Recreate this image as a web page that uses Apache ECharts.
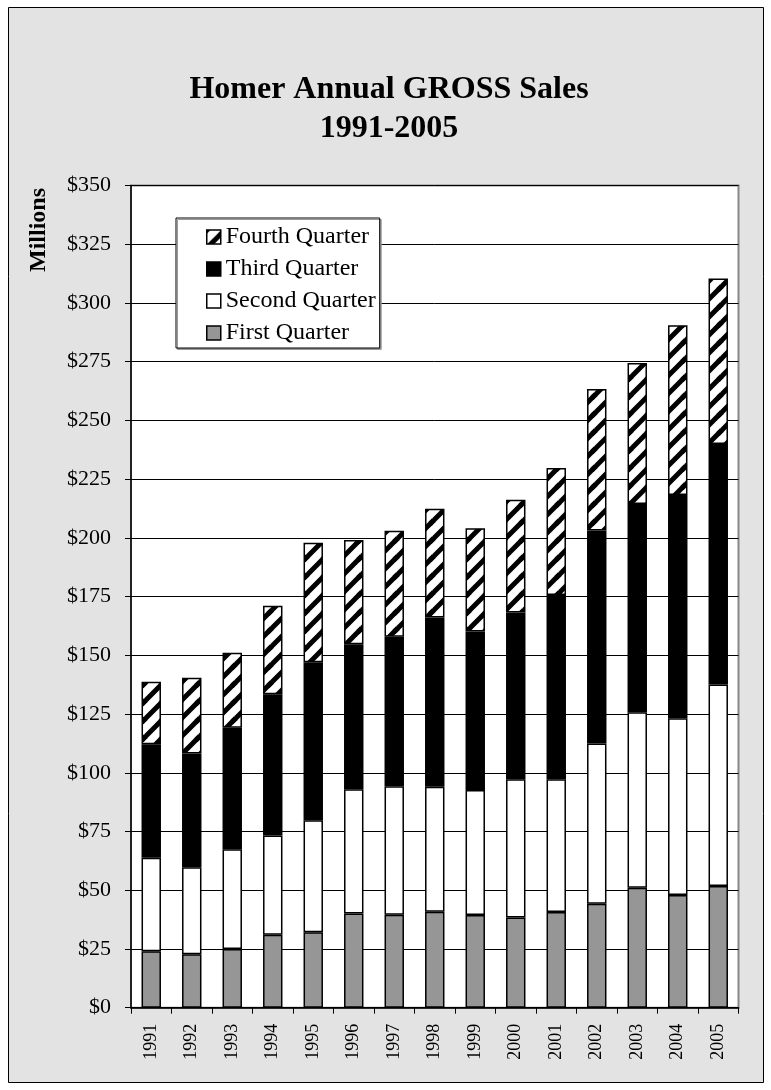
<!DOCTYPE html>
<html>
<head>
<meta charset="utf-8">
<script src="https://cdn.jsdelivr.net/npm/echarts@6/dist/echarts.min.js"></script>
<style>
html,body{margin:0;padding:0;background:#fff;}
#chart{width:771px;height:1090px;}
</style>
</head>
<body>
<div id="chart"></div>
<script>
const years = ['1991','1992','1993','1994','1995','1996','1997','1998','1999','2000','2001','2002','2003','2004','2005'];
const firstQuarter  = [24.0, 22.7, 25.0, 31.1, 32.1, 40.1, 39.6, 40.8, 39.5, 38.4, 40.7, 44.3, 51.1, 48.0, 51.8];
const secondQuarter = [39.8, 37.1, 42.5, 42.2, 47.7, 52.9, 54.7, 53.3, 53.2, 58.8, 56.5, 68.2, 74.7, 75.2, 85.8];
const thirdQuarter  = [48.4, 48.4, 51.7, 60.1, 67.3, 61.7, 63.6, 72.0, 67.4, 71.0, 78.5, 90.6, 88.6, 95.1, 102.4];
const fourthQuarter = [26.6, 32.3, 31.9, 37.7, 50.8, 44.4, 45.1, 46.3, 44.0, 48.0, 54.0, 60.3, 60.0, 72.2, 70.4];
const seriesNames = ['First Quarter','Second Quarter','Third Quarter','Fourth Quarter'];
const yMin = 0, yMax = 350, yStep = 25;

const FONT = '"Liberation Serif","Times New Roman",serif';

// hatch pattern
const tile = document.createElement('canvas');
tile.width = 18; tile.height = 18;
const g = tile.getContext('2d');
g.fillStyle = '#fff'; g.fillRect(0,0,18,18);
g.strokeStyle = '#000'; g.lineWidth = 5;
[[0,18,18,0],[-9,9,9,-9],[9,27,27,9],[-18,18,18,-18],[0,36,36,0]].forEach(function(l){
  g.beginPath(); g.moveTo(l[0],l[1]); g.lineTo(l[2],l[3]); g.stroke();
});
const hatch = {image: tile, repeat: 'repeat'};

const fills = ['#969696', '#ffffff', '#000000', hatch];
const datas = [firstQuarter, secondQuarter, thirdQuarter, fourthQuarter];

const chart = echarts.init(document.getElementById('chart'), null, {renderer:'canvas'});
chart.setOption({
  animation: false,
  backgroundColor: '#ffffff',
  title: {
    text: 'Homer Annual GROSS Sales\n1991-2005',
    left: 384, textAlign: 'center', top: 65,
    textStyle: {fontFamily: FONT, fontWeight: 'bold', fontSize: 32, lineHeight: 39, color: '#000'}
  },
  graphic: [
    {type:'rect', z:-10, shape:{x:8.5, y:7.5, width:755, height:1075},
     style:{fill:'#e3e3e3', stroke:'#000', lineWidth:1}},
    {type:'text', x:39, y:230, rotation: Math.PI/2, z: 10,
     style:{text:'Millions', font:'bold 24px ' + FONT, fill:'#000', textAlign:'center', textVerticalAlign:'middle'}}
  ],
  legend: {
    orient: 'vertical', left: 176, top: 218,
    data: ['Fourth Quarter','Third Quarter','Second Quarter','First Quarter'],
    padding: [7, 4, 3, 30],
    itemGap: 8, itemWidth: 14, itemHeight: 14,
    backgroundColor: '#fff', borderColor: '#000', borderWidth: 1,
    shadowColor: '#999', shadowOffsetX: 1.5, shadowOffsetY: 1.5, shadowBlur: 0,
    icon: 'rect',
    itemStyle: {borderColor: '#000', borderWidth: 1.5},
    textStyle: {fontFamily: FONT, fontSize: 24, lineHeight: 24, color: '#000'}
  },
  grid: {
    left: 131, right: 32.5, top: 185.5, bottom: 82.3,
    show: true, backgroundColor: '#fff', borderColor: '#888', borderWidth: 2,
    containLabel: false
  },
  xAxis: {
    type: 'category', data: years,
    axisLine: {lineStyle: {color:'#000', width:1.5}},
    axisTick: {show:true, interval:0, length:6, lineStyle:{color:'#000'}},
    axisLabel: {rotate: 90, interval:0, margin: 16, fontFamily: FONT, fontSize: 18, color:'#000'}
  },
  yAxis: {
    type: 'value', min: yMin, max: yMax, interval: yStep,
    axisLine: {show:true, lineStyle: {color:'#000', width:1.5}},
    axisTick: {show:true, length:6, lineStyle:{color:'#000'}},
    splitLine: {show:true, lineStyle:{color:'#000', width:1}},
    axisLabel: {margin: 20, fontFamily: FONT, fontSize: 22, color:'#000', formatter: function(v){return '$' + v;}}
  },
  series: seriesNames.map(function(name, i){
    return {
      name: name, type: 'bar', stack: 'total',
      data: datas[i],
      barCategoryGap: '52%',
      itemStyle: {color: fills[i], borderColor:'#000', borderWidth:1.5}
    };
  })
});
</script>
</body>
</html>
